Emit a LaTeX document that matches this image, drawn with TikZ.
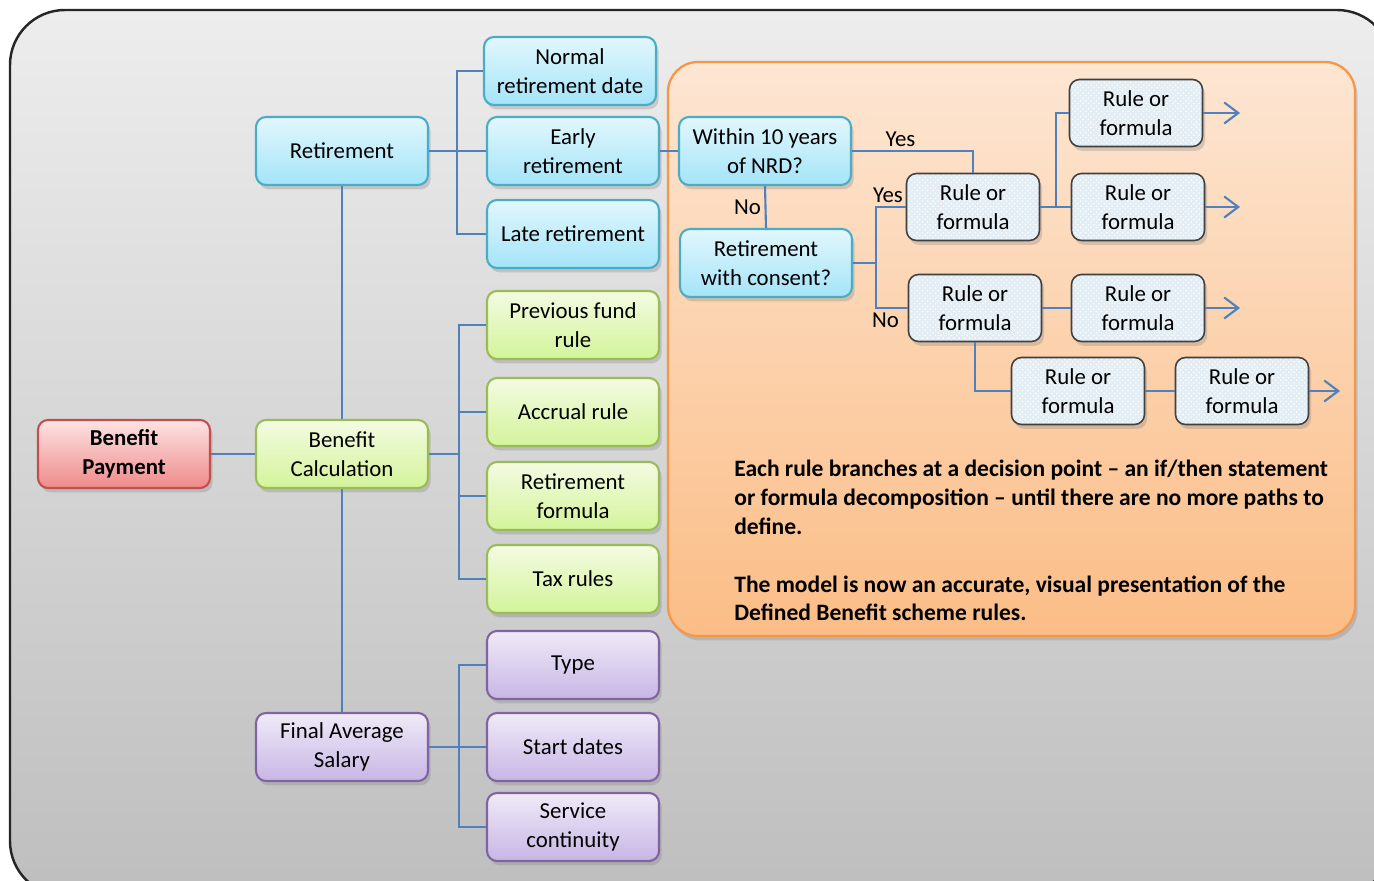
\documentclass[tikz,border=0pt]{standalone}
\usepackage{fontspec}
\setmainfont{Carlito}
\usepackage{tikz}
\usetikzlibrary{arrows.meta, positioning, calc, patterns, shadows}

\definecolor{linkblue}{HTML}{4F81BD}
\definecolor{bluetop}{HTML}{E2F7FD}
\definecolor{bluebot}{HTML}{A4E4F8}
\definecolor{blueline}{HTML}{4BACC6}
\definecolor{greentop}{HTML}{F4FBE2}
\definecolor{greenbot}{HTML}{D3F49A}
\definecolor{greenline}{HTML}{9BBB59}
\definecolor{purpletop}{HTML}{F0EAF8}
\definecolor{purplebot}{HTML}{C7B6E5}
\definecolor{purpleline}{HTML}{8064A2}
\definecolor{redtop}{HTML}{FDE3E3}
\definecolor{redbot}{HTML}{EF8A8A}
\definecolor{redline}{HTML}{C0504D}
\definecolor{rulefill}{HTML}{E3EDF4}
\definecolor{ruleline}{HTML}{404040}
\definecolor{paneltop}{HTML}{FDE6D3}
\definecolor{panelbot}{HTML}{FBBD86}
\definecolor{panelline}{HTML}{F79646}
\definecolor{bgtop}{HTML}{EDEDED}
\definecolor{bgbot}{HTML}{BEBEBE}

\begin{document}
\begin{tikzpicture}[x=0.02cm, y=-0.02cm,
  box/.style={rounded corners=0.2cm, line width=1.2pt, minimum width=3.44cm, minimum height=1.36cm,
    align=center, inner sep=2pt, font=\fontsize{13}{16.4}\selectfont,
    drop shadow={shadow xshift=1.5pt, shadow yshift=-2.5pt, opacity=0.3}},
  bluebox/.style={box, draw=blueline, top color=bluetop, bottom color=bluebot},
  greenbox/.style={box, draw=greenline, top color=greentop, bottom color=greenbot},
  purplebox/.style={box, draw=purpleline, top color=purpletop, bottom color=purplebot},
  redbox/.style={box, draw=redline, top color=redtop, bottom color=redbot, font=\fontsize{13}{16.4}\selectfont\bfseries},
  rulebox/.style={box, draw=ruleline, line width=0.9pt, minimum width=2.66cm, minimum height=1.34cm,
    preaction={fill=rulefill}, pattern=crosshatch dots, pattern color=white!70},
  link/.style={draw=linkblue, line width=1.2pt},
  tip/.style={link, -{Straight Barb[length=8pt, width=12pt]}},
  lbl/.style={font=\fontsize{13}{16.4}\selectfont, inner sep=2pt}
]
\useasboundingbox (0,0) rectangle (1374,881);
\fill[white] (0,0) rectangle (1374,881);

% background card
\begin{scope}
\clip (0,0) rectangle (1374,881);
\draw[draw=black!85, line width=1.4pt, top color=bgtop, bottom color=bgbot, rounded corners=1.1cm] (10,10) rectangle (1392,896);
\end{scope}

% orange panel
\draw[draw=panelline, line width=1.3pt, top color=paneltop, bottom color=panelbot, rounded corners=0.6cm,
  drop shadow={shadow xshift=1.5pt, shadow yshift=-2.5pt, opacity=0.3}] (668,62) rectangle (1355,636);

% main tree
\node[redbox] (pay) at (124,454) {Benefit\\Payment};
\node[bluebox] (ret) at (342,151) {Retirement};
\node[greenbox] (calc) at (342,454) {Benefit\\Calculation};
\node[purplebox] (fas) at (342,747) {Final Average\\Salary};

\node[bluebox] (nrd) at (570,71) {Normal\\retirement date};
\node[bluebox] (early) at (573,151) {Early\\retirement};
\node[bluebox] (late) at (573,234) {Late retirement};

\node[greenbox] (prev) at (573,325) {Previous fund\\rule};
\node[greenbox] (accr) at (573,412) {Accrual rule};
\node[greenbox] (form) at (573,496) {Retirement\\formula};
\node[greenbox] (tax) at (573,579) {Tax rules};

\node[purplebox] (type) at (573,665) {Type};
\node[purplebox] (start) at (573,747) {Start dates};
\node[purplebox] (serv) at (573,827) {Service\\continuity};

% decision nodes
\node[bluebox] (within) at (765,151) {Within 10 years\\of NRD?};
\node[bluebox] (consent) at (766,263) {Retirement\\with consent?};

% rule boxes
\node[rulebox] (ruleA) at (973,207) {Rule or\\formula};
\node[rulebox] (ruleB) at (1136,113) {Rule or\\formula};
\node[rulebox] (ruleC) at (1138,207) {Rule or\\formula};
\node[rulebox] (ruleD) at (975,308) {Rule or\\formula};
\node[rulebox] (ruleE) at (1138,308) {Rule or\\formula};
\node[rulebox] (ruleF) at (1078,391) {Rule or\\formula};
\node[rulebox] (ruleG) at (1242,391) {Rule or\\formula};

\coordinate (endB) at (1240,113);
\coordinate (endC) at (1240,207);
\coordinate (endE) at (1240,308);
\coordinate (endG) at (1340,391);

% connectors of the tree
\draw[link] (pay.east) -- (calc.west);
\draw[link] (ret.south) -- (calc.north);
\draw[link] (calc.south) -- (fas.north);
\draw[link] (ret.east) -- ++(28,0) |- (nrd.west);
\draw[link] (ret.east) -- (early.west);
\draw[link] (ret.east) -- ++(28,0) |- (late.west);
\draw[link] (calc.east) -- ++(30,0) |- (prev.west);
\draw[link] (calc.east) -- ++(30,0) |- (accr.west);
\draw[link] (calc.east) -- ++(30,0) |- (form.west);
\draw[link] (calc.east) -- ++(30,0) |- (tax.west);
\draw[link] (fas.east) -- ++(30,0) |- (type.west);
\draw[link] (fas.east) -- (start.west);
\draw[link] (fas.east) -- ++(30,0) |- (serv.west);

% connectors of the rules
\draw[link] (early.east) -- (within.west);
\draw[link] (within.east) -| (ruleA.north) node[lbl, pos=0.2, above] {Yes};
\draw[link] (within.south) -- (consent.north) node[lbl, midway, left] {No};
\draw[link] (consent.east) -- ++(23,0) |- (ruleA.west) node[lbl, pos=0.7, above] {Yes};
\draw[link] (consent.east) -- ++(23,0) |- (ruleD.west) node[lbl, pos=0.65, below] {No};
\draw[link] (ruleA.east) -- ++(16,0) |- (ruleB.west);
\draw[link] (ruleA.east) -- (ruleC.west);
\draw[link] (ruleD.east) -- (ruleE.west);
\draw[link] (ruleD.south) |- (ruleF.west);
\draw[link] (ruleF.east) -- (ruleG.west);
\draw[tip] (ruleB.east) -- (endB);
\draw[tip] (ruleC.east) -- (endC);
\draw[tip] (ruleE.east) -- (endE);
\draw[tip] (ruleG.east) -- (endG);

% note text
\node[anchor=north west, align=left, inner sep=0pt, font=\fontsize{13.4}{16.4}\selectfont\bfseries] (note) at (734,460)
  {Each rule branches at a decision point -- an if/then statement\\
   or formula decomposition -- until there are no more paths to\\
   define.\\[16.4pt]
   The model is now an accurate, visual presentation of the\\
   Defined Benefit scheme rules.};
\end{tikzpicture}
\end{document}
